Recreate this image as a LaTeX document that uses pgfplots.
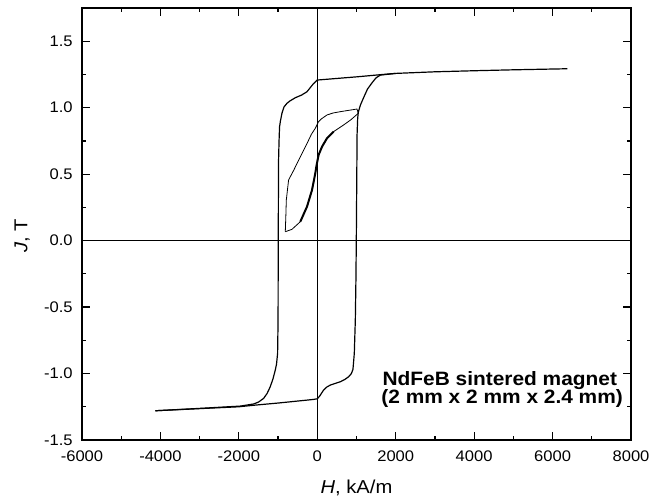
\documentclass[border=0pt]{standalone}
\usepackage{fontspec}
\setmainfont{Liberation Sans}[FakeStretch=1.08]
\usepackage{pgfplots}
\pgfplotsset{compat=1.18}
\usetikzlibrary{calc}
\begin{document}
\begin{tikzpicture}
\begin{axis}[
  scale only axis, width=411.75pt, height=324pt,
  xmin=-6000, xmax=8000, ymin=-1.5, ymax=1.75,
  xtick={-6000,-4000,-2000,0,2000,4000,6000,8000},
  ytick={-1.5,-1,-0.5,0,0.5,1,1.5},
  minor x tick num=1, minor y tick num=1,
  tick align=inside, tick pos=both,
  major tick length=6pt, minor tick length=3pt,
  axis line style={line width=1.5pt},
  every tick/.style={black, line width=0.9pt},
  /pgf/number format/assume math mode=true,
  xticklabel style={/pgf/number format/1000 sep={}, font=\fontsize{11.5}{13}\selectfont, yshift=-4.5pt},
  yticklabel style={/pgf/number format/fixed, /pgf/number format/fixed zerofill, /pgf/number format/precision=1, font=\fontsize{11.5}{13}\selectfont, xshift=-3.5pt},
  xlabel={\textit{H}, kA/m}, ylabel={\textit{J}, T},
  xlabel style={font=\fontsize{14}{16}\selectfont, anchor=base, at={(axis description cs:0.5,-0.123)}},
  ylabel style={font=\fontsize{14}{16}\selectfont, rotate=0, anchor=center, at={(axis description cs:-0.109,0.472)}},
  clip=true,
]
% zero lines
\addplot[black, line width=0.7pt] coordinates {(0,-1.5) (0,1.75)};
\addplot[black, line width=0.7pt] coordinates {(-6000,0) (8000,0)};
% main loop: descending branch
\addplot[black, line width=0.9pt] coordinates {
(6380,1.293) (5000,1.285) (4000,1.278) (3000,1.27) (2000,1.258) (1600,1.248) (1000,1.232) (500,1.22) (0,1.208)
(-100,1.18) (-263,1.12) (-400,1.095) (-560,1.075) (-700,1.05) (-773,1.033) (-850,1.005) (-901,0.958) (-940,0.9)
(-962,0.857) (-975,0.75) (-987,0.61) (-992,0.3) (-995,0) (-998,-0.3) (-1000,-0.597) (-1012,-0.848) (-1040,-0.93)
(-1071,-0.974) (-1130,-1.04) (-1199,-1.099) (-1280,-1.15) (-1369,-1.187) (-1500,-1.215) (-1624,-1.229)
(-1964,-1.245) (-2985,-1.262) (-4130,-1.28)
};
% main loop: ascending branch
\addplot[black, line width=0.9pt] coordinates {
(-4130,-1.28) (-3000,-1.264) (-2000,-1.25) (-1600,-1.238) (-1000,-1.222) (-500,-1.207) (-100,-1.195) (0,-1.19)
(60,-1.17) (161,-1.124) (250,-1.1) (332,-1.087) (450,-1.075) (587,-1.062) (700,-1.045) (800,-1.024) (870,-1.0)
(910,-0.968) (944,-0.848) (970,-0.597) (985,-0.3) (995,0) (1005,0.4) (1015,0.8) (1030,0.92) (1046,0.967)
(1100,1.02) (1173,1.07) (1280,1.14) (1403,1.19) (1500,1.225) (1607,1.245) (1750,1.25) (2000,1.258)
};
% minor loop
\addplot[black, line width=0.6pt] coordinates {
(-816,0.067) (-800,0.2) (-790,0.305) (-732,0.456) (-600,0.53) (-518,0.58) (-400,0.65) (-263,0.73) (-150,0.8)
(-51,0.845) (0,0.875) (33,0.895) (100,0.915) (247,0.945) (400,0.96) (587,0.97) (800,0.98) (1012,0.99)
(1046,0.958) (860,0.91) (672,0.87) (416,0.82) (247,0.77) (120,0.706) (33,0.644) (-25,0.556) (-51,0.506)
(-135,0.38) (-263,0.255) (-434,0.142) (-645,0.085) (-816,0.067)
};
% initial curve (thick)
\addplot[black, line width=1.5pt] coordinates {
(-434,0.142) (-263,0.255) (-135,0.38) (-51,0.506) (-25,0.556) (33,0.644) (120,0.706) (247,0.77) (416,0.82)
};
\node[anchor=base west, font=\bfseries\fontsize{14.5}{16}\selectfont, inner sep=0pt] at (axis cs:1660,-1.0865) {NdFeB sintered magnet};
\node[anchor=base west, font=\bfseries\fontsize{14.5}{16}\selectfont, inner sep=0pt] at (axis cs:1630,-1.222) {(2 mm x 2 mm x 2.4 mm)};
\end{axis}
\pgfresetboundingbox
\path[use as bounding box] ($(current axis.south west)+(-61.5pt,-45pt)$) rectangle ($(current axis.north east)+(26.25pt,6pt)$);
\end{tikzpicture}
\end{document}
